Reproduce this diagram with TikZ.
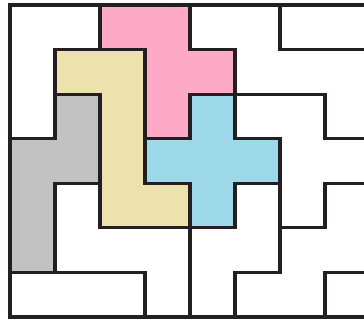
\documentclass[tikz,border=0pt]{standalone}
\definecolor{pinkc}{RGB}{252,170,198}
\definecolor{yellowc}{RGB}{237,225,173}
\definecolor{grayc}{RGB}{194,194,194}
\definecolor{bluec}{RGB}{157,217,232}
\definecolor{inkc}{RGB}{35,31,32}
\tikzset{edge/.style={draw=inkc,line width=2pt,line cap=rect}}
\begin{document}
\begin{tikzpicture}[x=1cm,y=-0.9905cm]
\useasboundingbox (-0.222,-0.112) rectangle (7.867,7.112);
% coloured pieces
\fill[pinkc] (2,0)--(4,0)--(4,1)--(5,1)--(5,2)--(4,2)--(4,3)--(3,3)--(3,1)--(2,1)--cycle;
\fill[yellowc] (1,1)--(3,1)--(3,4)--(4,4)--(4,5)--(2,5)--(2,2)--(1,2)--cycle;
\fill[grayc] (1,2)--(2,2)--(2,4)--(1,4)--(1,6)--(0,6)--(0,3)--(1,3)--cycle;
\fill[bluec] (4,2)--(5,2)--(5,3)--(6,3)--(6,4)--(5,4)--(5,5)--(4,5)--(4,4)--(3,4)--(3,3)--(4,3)--cycle;
% horizontal edges
\draw[edge] (0,0)--(8.2,0);
\draw[edge] (1,1)--(3,1) (4,1)--(5,1) (6,1)--(8.2,1);
\draw[edge] (1,2)--(2,2) (4,2)--(7,2);
\draw[edge] (0,3)--(1,3) (3,3)--(4,3) (5,3)--(6,3) (7,3)--(8.2,3);
\draw[edge] (1,4)--(2,4) (3,4)--(4,4) (5,4)--(6,4) (7,4)--(8.2,4);
\draw[edge] (2,5)--(5,5) (6,5)--(7,5);
\draw[edge] (0,6)--(3,6) (5,6)--(6,6) (7,6)--(8.2,6);
\draw[edge] (0,7)--(8.2,7);
% vertical edges
\draw[edge] (0,0)--(0,7);
\draw[edge] (1,1)--(1,3) (1,4)--(1,6);
\draw[edge] (2,0)--(2,1) (2,2)--(2,5);
\draw[edge] (3,1)--(3,4) (3,6)--(3,7);
\draw[edge] (4,0)--(4,1) (4,2)--(4,3) (4,4)--(4,7);
\draw[edge] (5,1)--(5,3) (5,4)--(5,5) (5,6)--(5,7);
\draw[edge] (6,0)--(6,1) (6,3)--(6,6);
\draw[edge] (7,2)--(7,3) (7,4)--(7,5) (7,6)--(7,7);
\end{tikzpicture}
\end{document}
